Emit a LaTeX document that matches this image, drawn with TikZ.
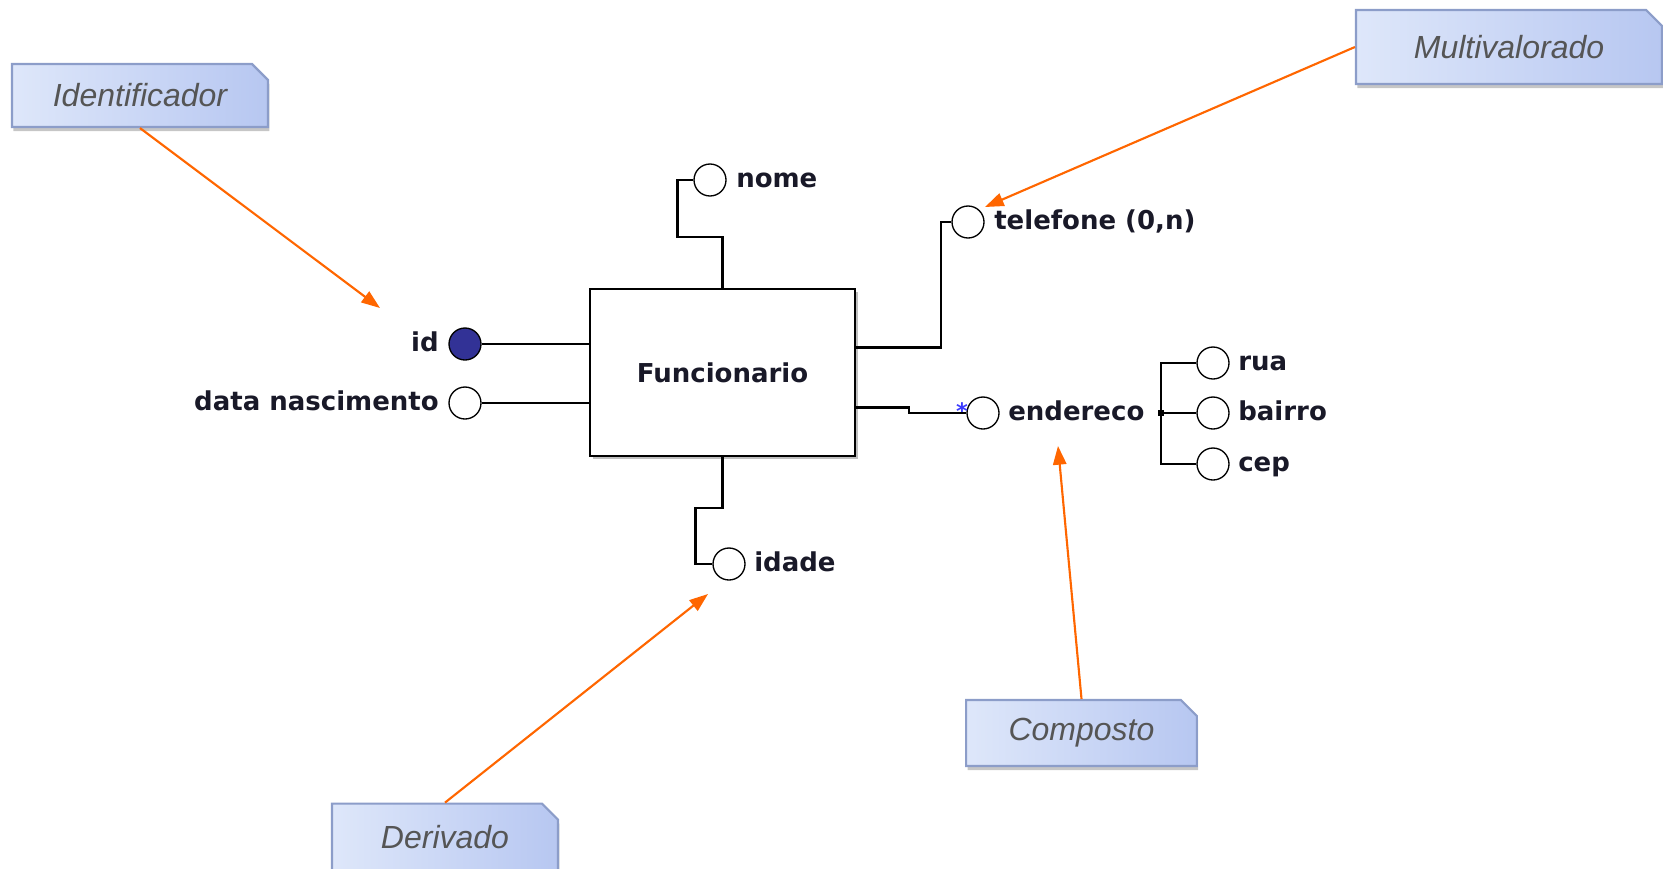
\documentclass[tikz,border=0pt]{standalone}
\usepackage{fontspec}
\setmainfont{Liberation Sans}
\newfontfamily\erfont{DejaVu Sans}
\usetikzlibrary{arrows.meta,shapes.misc,shadows}

\definecolor{notefill}{RGB}{222,231,250}
\definecolor{noteshade}{RGB}{183,199,241}
\definecolor{notedraw}{RGB}{140,157,201}
\definecolor{notetext}{RGB}{85,85,85}
\definecolor{pointer}{RGB}{255,102,0}
\definecolor{keyfill}{RGB}{50,50,150}
\definecolor{attrtext}{RGB}{25,25,40}
\definecolor{cardblue}{RGB}{60,60,255}

\tikzset{
  note/.style={chamfered rectangle, chamfered rectangle corners=north east,
    chamfered rectangle xsep=6pt, chamfered rectangle ysep=6pt,
    draw=notedraw, line width=1.6pt, left color=notefill, right color=noteshade,
    drop shadow={shadow xshift=1pt, shadow yshift=-3pt, opacity=0.45},
    text=notetext, font=\itshape\fontsize{24}{28}\selectfont},
  entity/.style={draw, line width=2.1pt, fill=white,
    minimum width=198.75pt, minimum height=125.25pt,
    drop shadow={shadow xshift=2pt, shadow yshift=-2pt, opacity=0.5},
    text=attrtext, font=\erfont\bfseries\fontsize{19.5}{23}\selectfont},
  attr/.style={circle, draw, line width=1pt, fill=white, minimum size=24pt, inner sep=0pt},
  keyattr/.style={attr, fill=keyfill},
  junction/.style={rectangle, fill=black, minimum size=4.5pt, inner sep=0pt},
  attrlabel/.style={inner sep=0pt, text height=14.5pt, text depth=4pt,
    text=attrtext, font=\erfont\bfseries\fontsize{19.5}{23}\selectfont},
  cardmark/.style={inner sep=0pt, text=cardblue, font=\erfont\bfseries\fontsize{17}{20}\selectfont},
  link/.style={line width=1.6pt},
  pointerarrow/.style={draw=pointer, line width=1.6pt, -{Triangle[length=14pt,width=10pt]}}
}

\begin{document}
\begin{tikzpicture}[x=0.75pt,y=0.75pt,yscale=-1,xscale=1]
\useasboundingbox (0,0) rectangle (1663,868);

%Shape: Entity
\node [entity] (func) at (722.5,372.5) {Funcionario};

%Shape: Attribute circles
\node [keyattr] (id) at (465,344) {};
\node [attr] (nasc) at (465,403) {};
\node [attr] (nome) at (710,180) {};
\node [attr] (tel) at (968,222) {};
\node [attr] (ender) at (983,413) {};
\node [attr] (rua) at (1213,363) {};
\node [attr] (bairro) at (1213,413) {};
\node [attr] (cep) at (1213,464) {};
\node [attr] (idade) at (729,564) {};
\node [junction] (jn) at (1161,413) {};

% Text Node
\node [attrlabel, anchor=east] (idlbl) at (439,344) {id};
% Text Node
\node [attrlabel, anchor=east] (nasclbl) at (439,403) {data nascimento};
% Text Node
\node [attrlabel, anchor=west] (nomelbl) at (736,180) {nome};
% Text Node
\node [attrlabel, anchor=west] (tellbl) at (994,222) {telefone (0,n)};
% Text Node
\node [attrlabel, anchor=west] (enderlbl) at (1008,413) {endereco};
% Text Node
\node [attrlabel, anchor=west] (rualbl) at (1238,363) {rua};
% Text Node
\node [attrlabel, anchor=west] (bairrolbl) at (1238,413) {bairro};
% Text Node
\node [attrlabel, anchor=west] (ceplbl) at (1238,464) {cep};
% Text Node
\node [attrlabel, anchor=west] (idadelbl) at (754,564) {idade};
% Text Node
\node [cardmark] (card) at (962,411) {*};

%Lines: attribute links
\draw [link] (id) -- (id -| func.west);
\draw [link] (nasc) -- (nasc -| func.west);
\draw [link] (func.north) -- ++(0,-51) -- ++(-45,0) |- (nome.west);
\draw [link] (func.east) ++(0,-25) -- ++(85,0) |- (tel.west);
\draw [link] (func.east) ++(0,35) -- ++(53,0) |- (ender.west);
\draw [link] (rua.west) -| (jn.center) |- (cep.west);
\draw [link] (jn.center) -- (bairro.west);
\draw [link] (func.south) -- ++(0,51) -- ++(-27,0) |- (idade.west);

%Shape: Callouts
\node [note, minimum width=192pt, minimum height=47.25pt] (identif) at (140,95.5) {Identificador};
\node [note, minimum width=229.5pt, minimum height=55.5pt] (multi) at (1509,47) {Multivalorado};
\node [note, minimum width=173pt, minimum height=49.5pt] (compo) at (1081.5,733) {Composto};
\node [note, minimum width=169.5pt, minimum height=50pt] (deriv) at (445,837) {Derivado};

%Lines: pointers
\coordinate (idtip) at (380,308);
\coordinate (teltip) at (985,207);
\coordinate (endtip) at (1058,446);
\coordinate (idadetip) at (708,594);
\draw [pointerarrow] (identif.south) -- (idtip);
\draw [pointerarrow] (multi.west) -- (teltip);
\draw [pointerarrow] (compo.north) -- (endtip);
\draw [pointerarrow] (deriv.north) -- (idadetip);

\end{tikzpicture}
\end{document}
